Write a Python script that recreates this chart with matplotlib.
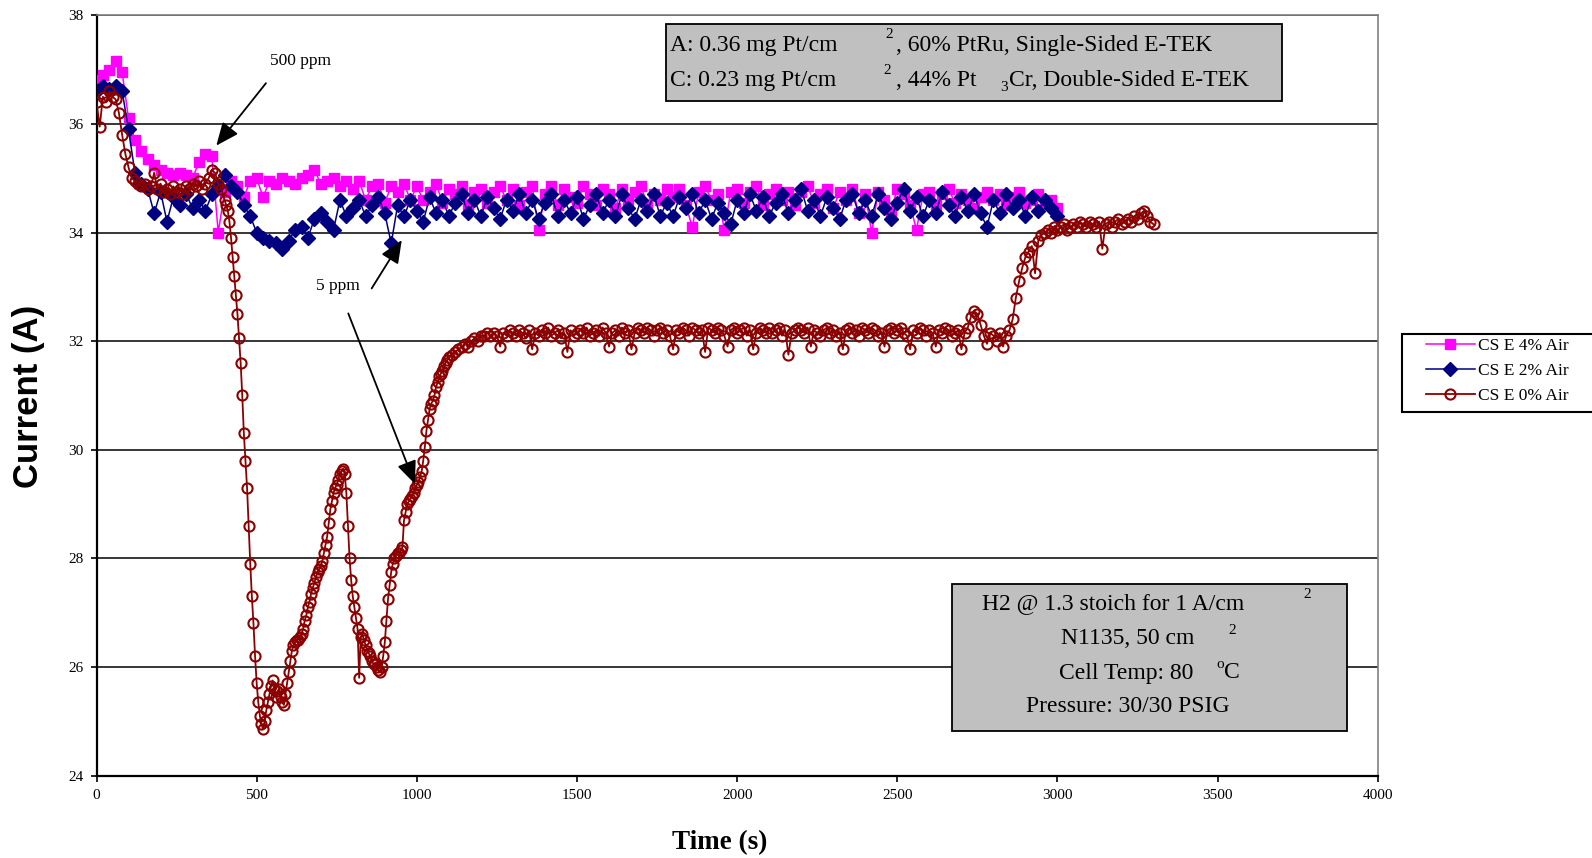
import numpy as np
import matplotlib
matplotlib.use("Agg")
import matplotlib.pyplot as plt
from matplotlib.patches import Rectangle

plt.rcParams['font.family'] = ['Liberation Serif', 'DejaVu Serif']

# ---- data (time in s, current in A) ----
# CS E 0% Air: every 10 s to 400, every 5 s 405-1100, every 10 s afterwards
t_red_a = np.arange(0, 401, 10)
i_red_a = [
    36.4, 35.95, 36.5, 36.4, 36.6, 36.5, 36.45, 36.2, 35.8, 35.45,
    35.2, 35.0, 34.95, 34.9, 34.85, 34.9, 34.8, 34.85, 35.1, 34.8,
    34.9, 34.75, 34.8, 34.7, 34.85, 34.75, 34.8, 34.7, 34.85, 34.8,
    34.9, 34.85, 34.95, 34.8, 34.9, 35.0, 35.15, 35.1, 34.9, 34.8,
    34.6,
]
t_red_b = np.arange(405, 1101, 5)
i_red_b = [
    34.5, 34.4, 34.2, 33.9, 33.55, 33.2, 32.85, 32.5, 32.05, 31.6,
    31.0, 30.3, 29.8, 29.3, 28.6, 27.9, 27.3, 26.8, 26.2, 25.7,
    25.35, 25.1, 24.95, 24.85, 25.0, 25.2, 25.35, 25.5, 25.65, 25.75,
    25.6, 25.45, 25.55, 25.6, 25.45, 25.35, 25.3, 25.5, 25.7, 25.9,
    26.1, 26.3, 26.4, 26.45, 26.5, 26.5, 26.55, 26.6, 26.7, 26.85,
    26.95, 27.1, 27.2, 27.35, 27.45, 27.55, 27.65, 27.75, 27.8, 27.85,
    27.95, 28.1, 28.25, 28.4, 28.65, 28.9, 29.05, 29.2, 29.3, 29.35,
    29.45, 29.55, 29.6, 29.65, 29.55, 29.2, 28.6, 28.0, 27.6, 27.3,
    27.1, 26.9, 26.7, 25.8, 26.55, 26.6, 26.5, 26.4, 26.3, 26.25,
    26.2, 26.1, 26.05, 26.05, 26.0, 25.95, 25.9, 26.0, 26.2, 26.45,
    26.85, 27.25, 27.5, 27.75, 27.9, 28.0, 28.05, 28.1, 28.1, 28.15,
    28.2, 28.7, 28.85, 29.0, 29.05, 29.1, 29.15, 29.2, 29.3, 29.35,
    29.4, 29.5, 29.6, 29.8, 30.05, 30.35, 30.55, 30.75, 30.85, 30.9,
    31.0, 31.15, 31.25, 31.35, 31.4, 31.45, 31.55, 31.6, 31.65, 31.7,
]
t_red_c = np.arange(1110, 3301, 10)
i_red_c = [
    31.75, 31.8, 31.85, 31.9, 31.95, 31.9, 32.0, 32.05, 32.0, 32.1,
    32.1, 32.15, 32.1, 32.15, 32.1, 31.9, 32.15, 32.1, 32.2, 32.15,
    32.1, 32.2, 32.15, 32.05, 32.2, 31.85, 32.15, 32.1, 32.2, 32.15,
    32.25, 32.1, 32.15, 32.2, 32.05, 32.15, 31.8, 32.2, 32.1, 32.15,
    32.2, 32.15, 32.25, 32.1, 32.15, 32.2, 32.1, 32.25, 32.15, 31.9,
    32.15, 32.2, 32.1, 32.25, 32.15, 32.2, 31.85, 32.15, 32.25, 32.2,
    32.15, 32.25, 32.2, 32.1, 32.2, 32.25, 32.15, 32.2, 32.1, 31.85,
    32.2, 32.15, 32.25, 32.2, 32.1, 32.25, 32.2, 32.15, 32.2, 31.8,
    32.25, 32.2, 32.15, 32.25, 32.2, 32.1, 31.9, 32.2, 32.25, 32.15,
    32.2, 32.25, 32.1, 32.2, 31.85, 32.15, 32.25, 32.2, 32.15, 32.25,
    32.15, 32.2, 32.25, 32.1, 32.2, 31.75, 32.15, 32.2, 32.25, 32.2,
    32.15, 32.25, 31.9, 32.2, 32.15, 32.1, 32.2, 32.25, 32.15, 32.2,
    32.1, 32.15, 31.85, 32.2, 32.25, 32.15, 32.2, 32.1, 32.25, 32.2,
    32.15, 32.25, 32.2, 32.1, 32.15, 31.9, 32.2, 32.25, 32.15, 32.2,
    32.25, 32.15, 32.1, 31.85, 32.2, 32.15, 32.25, 32.2, 32.1, 32.2,
    32.15, 31.9, 32.2, 32.15, 32.25, 32.2, 32.1, 32.15, 32.2, 31.85,
    32.15, 32.25, 32.45, 32.55, 32.5, 32.3, 32.1, 31.95, 32.15, 32.1,
    32.0, 32.15, 31.9, 32.1, 32.2, 32.4, 32.8, 33.1, 33.35, 33.55,
    33.65, 33.75, 33.25, 33.85, 33.95, 34.0, 34.05, 34.0, 34.1, 34.05,
    34.1, 34.15, 34.05, 34.1, 34.15, 34.1, 34.2, 34.15, 34.1, 34.2,
    34.15, 34.1, 34.2, 33.7, 34.15, 34.2, 34.1, 34.2, 34.25, 34.15,
    34.2, 34.25, 34.2, 34.3, 34.25, 34.35, 34.4, 34.3, 34.2, 34.15,
]

# CS E 2% Air and CS E 4% Air, every 20 s
t_air = np.arange(0, 3001, 20)
i_blue = [
    36.6, 36.7, 36.65, 36.7, 36.6, 35.9, 35.1, 34.9, 34.8, 34.35,
    34.75, 34.2, 34.65, 34.5, 34.7, 34.45, 34.6, 34.4, 34.7, 34.85,
    35.05, 34.85, 34.75, 34.5, 34.3, 34.0, 33.9, 33.85, 33.8, 33.7,
    33.85, 34.05, 34.1, 33.9, 34.25, 34.35, 34.2, 34.05, 34.6, 34.3,
    34.45, 34.6, 34.3, 34.5, 34.65, 34.35, 33.8, 34.5, 34.3, 34.6,
    34.4, 34.2, 34.65, 34.35, 34.6, 34.3, 34.55, 34.7, 34.35, 34.6,
    34.3, 34.65, 34.45, 34.25, 34.6, 34.4, 34.7, 34.35, 34.6, 34.25,
    34.55, 34.7, 34.3, 34.6, 34.35, 34.65, 34.25, 34.5, 34.7, 34.35,
    34.6, 34.3, 34.7, 34.45, 34.25, 34.6, 34.4, 34.7, 34.3, 34.55,
    34.3, 34.65, 34.45, 34.7, 34.35, 34.6, 34.25, 34.55, 34.35, 34.15,
    34.6, 34.35, 34.7, 34.4, 34.65, 34.3, 34.55, 34.7, 34.35, 34.6,
    34.8, 34.4, 34.6, 34.3, 34.65, 34.45, 34.25, 34.6, 34.7, 34.35,
    34.6, 34.3, 34.7, 34.45, 34.25, 34.55, 34.8, 34.4, 34.65, 34.3,
    34.6, 34.35, 34.75, 34.5, 34.3, 34.65, 34.4, 34.7, 34.35, 34.1,
    34.6, 34.35, 34.7, 34.45, 34.6, 34.3, 34.65, 34.4, 34.6, 34.45,
    34.3,
]
i_mag = [
    36.8, 36.9, 37.0, 37.15, 36.95, 36.1, 35.7, 35.5, 35.35, 35.25,
    35.15, 35.1, 35.05, 35.1, 35.05, 35.0, 35.3, 35.45, 35.4, 34.0,
    34.75, 34.95, 34.85, 34.65, 34.95, 35.0, 34.65, 34.95, 34.9, 35.0,
    34.95, 34.9, 35.0, 35.05, 35.15, 34.9, 34.95, 35.0, 34.85, 34.95,
    34.8, 34.95, 34.6, 34.85, 34.9, 34.55, 34.85, 34.75, 34.9, 34.6,
    34.85, 34.6, 34.75, 34.9, 34.55, 34.8, 34.7, 34.85, 34.5, 34.75,
    34.8, 34.55, 34.75, 34.85, 34.6, 34.8, 34.5, 34.75, 34.85, 34.05,
    34.7, 34.85, 34.5, 34.8, 34.65, 34.55, 34.85, 34.7, 34.5, 34.8,
    34.7, 34.45, 34.8, 34.6, 34.75, 34.85, 34.5, 34.7, 34.6, 34.8,
    34.65, 34.8, 34.5, 34.1, 34.75, 34.85, 34.6, 34.7, 34.05, 34.75,
    34.8, 34.55, 34.75, 34.85, 34.5, 34.7, 34.8, 34.6, 34.75, 34.5,
    34.75, 34.85, 34.55, 34.7, 34.8, 34.45, 34.75, 34.6, 34.8, 34.35,
    34.7, 34.0, 34.75, 34.6, 34.4, 34.8, 34.7, 34.5, 34.05, 34.7,
    34.75, 34.5, 34.7, 34.8, 34.55, 34.7, 34.6, 34.45, 34.65, 34.75,
    34.6, 34.7, 34.5, 34.65, 34.75, 34.55, 34.6, 34.7, 34.55, 34.6,
    34.45,
]

t_red = np.concatenate([t_red_a, t_red_b, t_red_c])
i_red = np.concatenate([i_red_a, i_red_b, i_red_c])

x_ticks = list(range(0, 4001, 500))
y_ticks = list(range(24, 39, 2))

W, H = 1592, 858


def fx(px):
    return px / W


def fy(py):
    return 1 - py / H


fig = plt.figure(figsize=(W / 100, H / 100), dpi=100)
ax = fig.add_axes([fx(96.5), fy(775.5), (1377.8 - 96.5) / W, (775.5 - 15.3) / H])

ax.plot(t_air, i_mag, color='#ff00ff', marker='s', ms=7.5, lw=1.1,
        label='CS E 4% Air', zorder=3)
ax.plot(t_air, i_blue, color='#000080', marker='D', ms=7, lw=1.1,
        label='CS E 2% Air', zorder=4)
ax.plot(t_red, i_red, color='#8b0000', marker='o', ms=7.3, mfc='none',
        mew=1.5, lw=1.3, label='CS E 0% Air', zorder=5)

ax.set_xlim(0, 4000)
ax.set_ylim(24, 38)
ax.set_xticks(x_ticks)
ax.set_yticks(y_ticks)
ax.tick_params(labelsize=11, direction='out', length=4.5, width=1.2, pad=5)
ax.yaxis.grid(True, color='black', lw=1.1)
ax.set_axisbelow(True)
for s in ['top', 'right']:
    ax.spines[s].set_color('#808080')
    ax.spines[s].set_linewidth(1.2)
for s in ['left', 'bottom']:
    ax.spines[s].set_color('black')
    ax.spines[s].set_linewidth(1.6)

# axis titles
fig.text(fx(720), fy(843), 'Time (s)', ha='center', va='center',
         fontsize=19.5, fontweight='bold')
fig.text(fx(28.5), fy(396), 'Current (A)', ha='center', va='center',
         rotation=90, family='Liberation Sans', fontsize=25, fontweight='bold')

# arrows and their labels
arrow = dict(arrowstyle='-|>,head_length=0.7,head_width=0.3', color='black',
             lw=1.3, mutation_scale=20, shrinkA=0, shrinkB=0)
ax.annotate('', xy=(374, 35.6), xytext=(529, 36.75), arrowprops=arrow, zorder=6)
ax.annotate('', xy=(953, 33.86), xytext=(859, 32.97), arrowprops=arrow, zorder=6)
ax.annotate('', xy=(994, 29.37), xytext=(786, 32.51), arrowprops=arrow, zorder=6)
ax.text(637, 37.15, '500 ppm', ha='center', va='center', fontsize=12.5)
ax.text(754, 33.02, '5 ppm', ha='center', va='center', fontsize=12.5)

# grey info boxes
fig.patches.append(Rectangle((fx(666), fy(100.5)), (1282 - 666) / W, (100.5 - 24.4) / H,
                             transform=fig.transFigure, facecolor='#c0c0c0',
                             edgecolor='black', lw=1.3, zorder=1))
fig.patches.append(Rectangle((fx(952), fy(731)), (1347 - 952) / W, (731 - 584) / H,
                             transform=fig.transFigure, facecolor='#c0c0c0',
                             edgecolor='black', lw=1.3, zorder=1))

big, small = 17, 11
# top box
fig.text(fx(670), fy(45), 'A: 0.36 mg Pt/cm', fontsize=big, va='center')
fig.text(fx(885), fy(35), '2', fontsize=small, va='center')
fig.text(fx(896), fy(45), ', 60% PtRu, Single-Sided E-TEK', fontsize=big, va='center')
fig.text(fx(670), fy(80.5), 'C: 0.23 mg Pt/cm', fontsize=big, va='center')
fig.text(fx(883), fy(70), '2', fontsize=small, va='center')
fig.text(fx(896), fy(80.5), ', 44% Pt', fontsize=big, va='center')
fig.text(fx(1000), fy(87.5), '3', fontsize=small, va='center')
fig.text(fx(1009), fy(80.5), 'Cr, Double-Sided E-TEK', fontsize=big, va='center')

# bottom box
fig.text(fx(982), fy(604), 'H2 @ 1.3 stoich for 1 A/cm', fontsize=big, va='center')
fig.text(fx(1303), fy(594), '2', fontsize=small, va='center')
fig.text(fx(1061), fy(639), 'N1135, 50 cm', fontsize=big, va='center')
fig.text(fx(1228), fy(630), '2', fontsize=small, va='center')
fig.text(fx(1059), fy(673), 'Cell Temp: 80', fontsize=big, va='center')
fig.text(fx(1216), fy(665), 'o', fontsize=small, va='center')
fig.text(fx(1224), fy(673), 'C', fontsize=big, va='center')
fig.text(fx(1026), fy(707), 'Pressure: 30/30 PSIG', fontsize=big, va='center')

# legend box running off the right edge
fig.patches.append(Rectangle((fx(1402), fy(412)), 220 / W, (412 - 334) / H,
                             transform=fig.transFigure, facecolor='white',
                             edgecolor='black', lw=1.5, zorder=1))
leg = fig.legend(loc='upper left', bbox_to_anchor=(fx(1426), fy(338)),
                 borderaxespad=0, borderpad=0, fontsize=12.5, numpoints=1,
                 handlelength=2.8, handletextpad=0.2, labelspacing=0.5,
                 frameon=False)

fig.savefig('out.png', dpi=100)
